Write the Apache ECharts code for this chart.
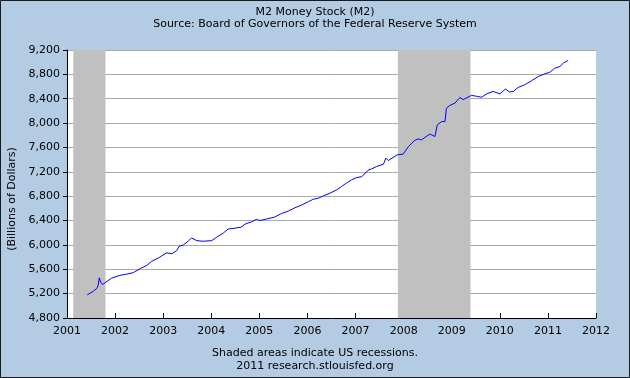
<!DOCTYPE html>
<html>
<head>
<meta charset="utf-8">
<script src="https://cdn.jsdelivr.net/npm/echarts@6/dist/echarts.min.js"></script>
<style>
  html, body { margin: 0; padding: 0; }
  #main { width: 630px; height: 378px; }
</style>
</head>
<body>
<div id="main"></div>
<script>
// decimal years
var years = [
  2001.42, 2001.55, 2001.62, 2001.65, 2001.67, 2001.70, 2001.74, 2001.81, 2001.93,
  2002.10, 2002.24, 2002.38, 2002.52, 2002.66, 2002.76, 2002.90,
  2003.07, 2003.18, 2003.28, 2003.33, 2003.42, 2003.52, 2003.59, 2003.70, 2003.83,
  2004.01, 2004.11, 2004.25, 2004.35, 2004.49, 2004.62, 2004.70, 2004.84, 2004.94,
  2005.01, 2005.15, 2005.31, 2005.46, 2005.60, 2005.74, 2005.88,
  2006.02, 2006.12, 2006.22, 2006.33, 2006.47, 2006.61, 2006.71, 2006.81, 2006.92,
  2007.02, 2007.13, 2007.20, 2007.28, 2007.33, 2007.43, 2007.58, 2007.63, 2007.68, 2007.78, 2007.87, 2007.99,
  2008.10, 2008.23, 2008.30, 2008.37, 2008.47, 2008.55, 2008.65, 2008.70, 2008.74, 2008.79, 2008.86, 2008.89, 2008.96,
  2009.07, 2009.17, 2009.24, 2009.31, 2009.41, 2009.52, 2009.62, 2009.73, 2009.86,
  2010.00, 2010.12, 2010.20, 2010.28, 2010.38, 2010.52, 2010.66, 2010.80, 2010.94,
  2011.04, 2011.14, 2011.25, 2011.32, 2011.42
]
// M2, billions of dollars
var m2 = [
  5180, 5240, 5285, 5340, 5460, 5390, 5350, 5390, 5455,
  5500, 5520, 5545, 5610, 5665, 5730, 5785,
  5870, 5855, 5905, 5975, 6000, 6060, 6115, 6070, 6060,
  6070, 6125, 6195, 6260, 6275, 6290, 6340, 6380, 6420,
  6400, 6425, 6455, 6515, 6555, 6610, 6655,
  6710, 6750, 6765, 6805, 6850, 6905, 6960, 7015, 7070,
  7105, 7120, 7180, 7235, 7245, 7285, 7325, 7425, 7385, 7435, 7480, 7490,
  7615, 7715, 7740, 7725, 7780, 7820, 7780, 7970, 8000, 8025, 8025, 8245, 8290,
  8330, 8420, 8385, 8415, 8455, 8440, 8425, 8480, 8520,
  8480, 8560, 8510, 8520, 8585, 8630, 8695, 8765, 8810,
  8835, 8900, 8930, 8985, 9030
]
var recessionStart = [2001.13, 2007.88]
var recessionEnd = [2001.80, 2009.39]

var font = 'DejaVu Sans'
var myChart = echarts.init(document.getElementById('main'))

var lineData = years.map(function (y, i) { return [y, m2[i]] })
var areas = recessionStart.map(function (s, i) {
  return [{ xAxis: s }, { xAxis: recessionEnd[i] }]
})

var option = {
  backgroundColor: '#b3cce3',
  animation: false,
  textStyle: { fontFamily: font },
  grid: {
    left: 67, right: 34, top: 50, bottom: 60,
    show: true,
    backgroundColor: '#ffffff',
    borderWidth: 0
  },
  xAxis: {
    type: 'value',
    min: 2001,
    max: 2012,
    interval: 1,
    axisLine: { show: true, lineStyle: { color: '#000', width: 1 } },
    axisTick: { show: true, inside: true, length: 5, lineStyle: { color: '#000' } },
    axisLabel: { color: '#000', fontSize: 11, fontFamily: font, margin: 8, formatter: function (v) { return String(v) } },
    splitLine: { show: false }
  },
  yAxis: {
    type: 'value',
    min: 4800,
    max: 9200,
    interval: 400,
    axisLine: { show: true, lineStyle: { color: '#000', width: 1 } },
    axisTick: { show: true, inside: false, length: 4, lineStyle: { color: '#000' } },
    axisLabel: {
      color: '#000', fontSize: 11, fontFamily: font, margin: 7,
      formatter: function (v) { return v.toLocaleString('en-US') }
    },
    splitLine: { show: true, lineStyle: { color: '#aaaaaa', width: 1 } }
  },
  graphic: [
    { type: 'text', left: 'center', top: 7, style: { text: 'M2 Money Stock (M2)', font: '11px "DejaVu Sans"', fill: '#000' } },
    { type: 'text', left: 'center', top: 19, style: { text: 'Source: Board of Governors of the Federal Reserve System', font: '11px "DejaVu Sans"', fill: '#000' } },
    { type: 'text', left: 'center', top: 348, style: { text: 'Shaded areas indicate US recessions.', font: '11px "DejaVu Sans"', fill: '#000' } },
    { type: 'text', left: 'center', top: 361, style: { text: '2011 research.stlouisfed.org', font: '11px "DejaVu Sans"', fill: '#000' } },
    {
      type: 'text', x: 12, y: 199, rotation: Math.PI / 2,
      style: { text: '(Billions of Dollars)', font: '11px "DejaVu Sans"', fill: '#000', align: 'center', verticalAlign: 'middle' }
    },
    {
      type: 'rect', shape: { x: 0.5, y: 0.5, width: 629, height: 377 },
      style: { fill: 'none', stroke: '#1a1a1a', lineWidth: 1 }, silent: true
    }
  ],
  series: [
    {
      name: 'recessions',
      type: 'line',
      data: [],
      z: 1,
      markArea: {
        silent: true,
        itemStyle: { color: '#c0c0c0', opacity: 1 },
        data: areas
      }
    },
    {
      name: 'M2',
      type: 'line',
      data: lineData,
      z: 3,
      symbol: 'none',
      lineStyle: { color: '#0000ff', width: 1 }
    }
  ]
}
myChart.setOption(option)
</script>
</body>
</html>
